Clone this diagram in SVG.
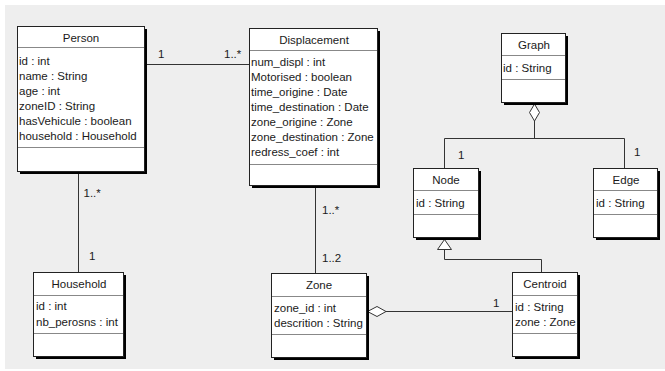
<svg xmlns="http://www.w3.org/2000/svg" width="665" height="371" viewBox="0 0 665 371">
<style>
text{font-family:"Liberation Sans",Arial,sans-serif;font-size:11.5px;font-weight:normal;fill:#1a1a1a}
.t{text-anchor:middle}
.sh{fill:#000}
.bx{fill:#fff;stroke:#222;stroke-width:1}
.sep{stroke:#888;stroke-width:1}
.c{stroke:#333;stroke-width:1;fill:none}
.dia{fill:#fff;stroke:#333;stroke-width:1}
</style>
<rect x="5" y="5" width="660" height="364" fill="#eeeeee"/>
<g id="connectors">
<line class="c" x1="145" y1="64.5" x2="250" y2="64.5"/>
<text x="158" y="58">1</text>
<text x="224" y="58">1..*</text>
<line class="c" x1="78.5" y1="172" x2="78.5" y2="273"/>
<text x="83.5" y="197">1..*</text>
<text x="89" y="260">1</text>
<line class="c" x1="315.5" y1="186" x2="315.5" y2="274"/>
<text x="322" y="214">1..*</text>
<text x="322" y="261.5">1..2</text>
<line class="c" x1="386" y1="311.5" x2="513" y2="311.5"/>
<polygon class="dia" points="367.5,311.5 377,306.5 386,311.5 377,316.5"/>
<text x="493" y="307">1</text>
<polyline class="c" points="534.5,121 534.5,138.5"/>
<polyline class="c" points="444.5,169 444.5,138.5 624.5,138.5 624.5,169"/>
<polygon class="dia" points="534.5,104 539.5,112.5 534.5,121 529.5,112.5"/>
<text x="458" y="159">1</text>
<text x="634" y="156">1</text>
<polyline class="c" points="444.5,249.5 444.5,259.5 541.5,259.5 541.5,273"/>
<polygon class="dia" points="444.5,239.5 451.5,249.5 437.5,249.5"/>
</g>
<g id="person">
<rect class="sh" x="20" y="29" width="127" height="145"/>
<rect class="bx" x="17.5" y="26.5" width="127" height="145"/>
<line class="sep" x1="18" y1="47.5" x2="144" y2="47.5"/>
<line class="sep" x1="18" y1="147.5" x2="144" y2="147.5"/>
<text class="t" x="81" y="41.5">Person</text>
<text x="19" y="64.5">id : int</text>
<text x="19" y="79.5">name : String</text>
<text x="19" y="94.5">age : int</text>
<text x="19" y="109.5">zoneID : String</text>
<text x="19" y="124.5">hasVehicule : boolean</text>
<text x="19" y="139.5">household : Household</text>
</g>
<g id="displacement">
<rect class="sh" x="252" y="31" width="128" height="157"/>
<rect class="bx" x="249.5" y="28.5" width="128" height="157"/>
<line class="sep" x1="250" y1="50.5" x2="377" y2="50.5"/>
<line class="sep" x1="250" y1="164.5" x2="377" y2="164.5"/>
<text class="t" x="314" y="43.5">Displacement</text>
<text x="251" y="66">num_displ : int</text>
<text x="251" y="81">Motorised : boolean</text>
<text x="251" y="96">time_origine : Date</text>
<text x="251" y="111">time_destination : Date</text>
<text x="251" y="126">zone_origine : Zone</text>
<text x="251" y="141">zone_destination : Zone</text>
<text x="251" y="156">redress_coef : int</text>
</g>
<g id="graph">
<rect class="sh" x="504" y="36" width="64" height="69"/>
<rect class="bx" x="501.5" y="33.5" width="64" height="69"/>
<line class="sep" x1="502" y1="55.5" x2="565" y2="55.5"/>
<line class="sep" x1="502" y1="79.5" x2="565" y2="79.5"/>
<text class="t" x="534" y="49">Graph</text>
<text x="503" y="71.5">id : String</text>
</g>
<g id="node">
<rect class="sh" x="416" y="171" width="65" height="69"/>
<rect class="bx" x="413.5" y="168.5" width="65" height="69"/>
<line class="sep" x1="414" y1="190.5" x2="478" y2="190.5"/>
<line class="sep" x1="414" y1="214.5" x2="478" y2="214.5"/>
<text class="t" x="446" y="184">Node</text>
<text x="416" y="206.5">id : String</text>
</g>
<g id="edge">
<rect class="sh" x="596" y="171" width="64" height="69"/>
<rect class="bx" x="593.5" y="168.5" width="64" height="69"/>
<line class="sep" x1="594" y1="190.5" x2="657" y2="190.5"/>
<line class="sep" x1="594" y1="214.5" x2="657" y2="214.5"/>
<text class="t" x="626" y="184">Edge</text>
<text x="596" y="206.5">id : String</text>
</g>
<g id="household">
<rect class="sh" x="36" y="275" width="90" height="84"/>
<rect class="bx" x="33.5" y="272.5" width="90" height="84"/>
<line class="sep" x1="34" y1="295.5" x2="123" y2="295.5"/>
<line class="sep" x1="34" y1="333.5" x2="123" y2="333.5"/>
<text class="t" x="79" y="288">Household</text>
<text x="36" y="310">id : int</text>
<text x="36" y="325.5">nb_perosns : int</text>
</g>
<g id="zone">
<rect class="sh" x="274" y="276" width="95" height="84"/>
<rect class="bx" x="271.5" y="273.5" width="95" height="84"/>
<line class="sep" x1="272" y1="296.5" x2="366" y2="296.5"/>
<line class="sep" x1="272" y1="334.5" x2="366" y2="334.5"/>
<text class="t" x="319" y="289">Zone</text>
<text x="274" y="311.5">zone_id : int</text>
<text x="274" y="327">descrition : String</text>
</g>
<g id="centroid">
<rect class="sh" x="515" y="275" width="65" height="84"/>
<rect class="bx" x="512.5" y="272.5" width="65" height="84"/>
<line class="sep" x1="513" y1="295.5" x2="577" y2="295.5"/>
<line class="sep" x1="513" y1="333.5" x2="577" y2="333.5"/>
<text class="t" x="545" y="288">Centroid</text>
<text x="515" y="311">id : String</text>
<text x="515" y="326">zone : Zone</text>
</g>
</svg>
